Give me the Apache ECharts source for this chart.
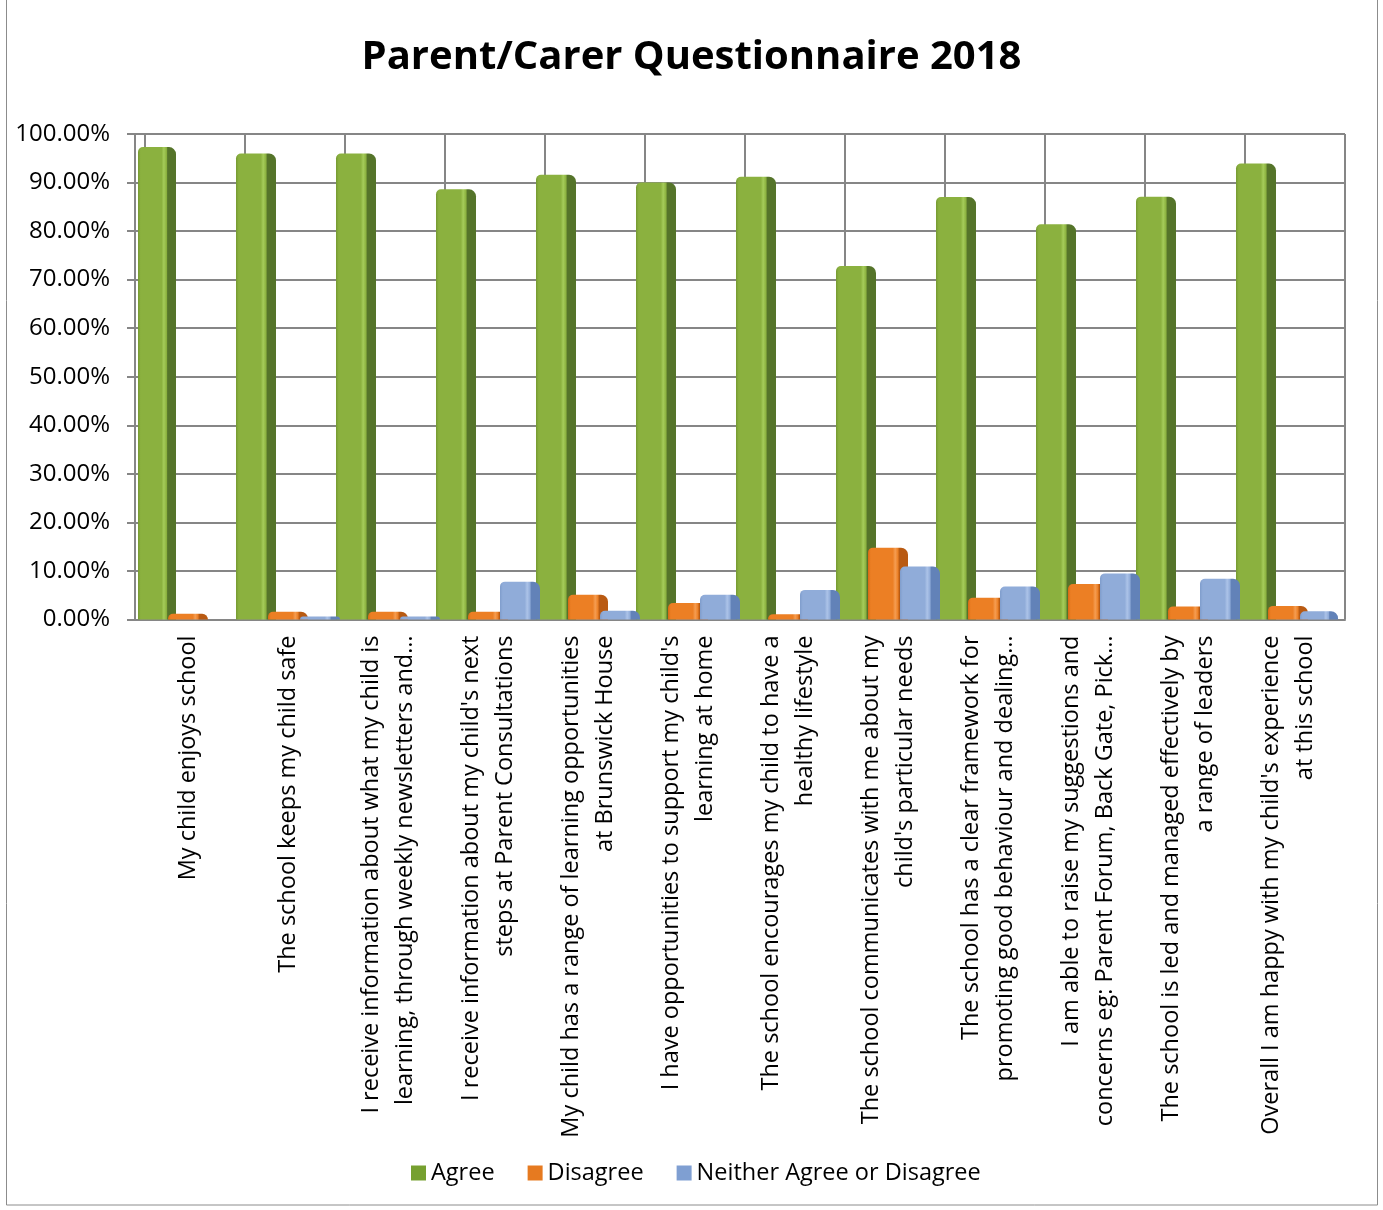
<!DOCTYPE html>
<html>
<head>
<meta charset="utf-8">
<script src="https://cdn.jsdelivr.net/npm/echarts@6/dist/echarts.min.js"></script>
<style>
html,body{margin:0;padding:0;background:#fff;}
#chart{width:1383px;height:1210px;}
</style>
</head>
<body>
<div id="chart"></div>
<script>
const categories = [
  "My child enjoys school",
  "The school keeps my child safe",
  "I receive information about what my child is\nlearning, through weekly newsletters and\u2026",
  "I receive information about my child's next\nsteps at Parent Consultations",
  "My child has a range of learning opportunities\nat Brunswick House",
  "I have opportunities to support my child's\nlearning at home",
  "The school encourages my child to have a\nhealthy lifestyle",
  "The school communicates with me about my\nchild's particular needs",
  "The school has a clear framework for\npromoting good behaviour and dealing\u2026",
  "I am able to raise my suggestions and\nconcerns eg: Parent Forum, Back Gate, Pick\u2026",
  "The school is led and managed effectively by\na range of leaders",
  "Overall I am happy with my child's experience\nat this school"
];
const seriesNames = ["Agree", "Disagree", "Neither Agree or Disagree"];
const agree    = [97.3, 96.0, 96.0, 88.6, 91.6, 90.0, 91.2, 72.8, 87.0, 81.4, 87.1, 93.9];
const disagree = [1.2, 1.6, 1.6, 1.6, 5.1, 3.4, 1.1, 14.8, 4.5, 7.3, 2.7, 2.8];
const neither  = [0, 0.6, 0.6, 7.8, 1.8, 5.1, 6.1, 10.9, 6.8, 9.5, 8.4, 1.7];
const yTicks = [0, 10, 20, 30, 40, 50, 60, 70, 80, 90, 100];

function grad(edge, front, hi, side) {
  return new echarts.graphic.LinearGradient(0, 0, 1, 0, [
    {offset: 0, color: edge},
    {offset: 0.07, color: front},
    {offset: 0.62, color: front},
    {offset: 0.68, color: hi},
    {offset: 0.75, color: front},
    {offset: 0.78, color: side},
    {offset: 1, color: side}
  ]);
}
const FONT = "Open Sans";
const chart = echarts.init(document.getElementById('chart'), null, {renderer: 'canvas'});
const valueAxisBase = {
  type: 'value', min: yTicks[0], max: yTicks[yTicks.length - 1], interval: 10
};
const barCommon = {type: 'bar', xAxisIndex: 1, yAxisIndex: 1, barWidth: 40, barGap: '-20%'};
chart.setOption({
  animation: false,
  backgroundColor: '#ffffff',
  title: {
    text: 'Parent/Carer Questionnaire 2018',
    left: 'center', top: 33,
    textStyle: {fontFamily: FONT, fontWeight: 'bold', fontSize: 40, color: '#000'}
  },
  graphic: [{
    type: 'rect', silent: true,
    shape: {x: 6.5, y: -1, width: 1371, height: 1206},
    style: {fill: 'none', stroke: '#8c8c8c', lineWidth: 1}
  }],
  legend: {
    data: [
      {name: seriesNames[0], itemStyle: {color: '#76a030'}},
      {name: seriesNames[1], itemStyle: {color: '#e67a20'}},
      {name: seriesNames[2], itemStyle: {color: '#7f9fd2'}}
    ],
    left: 406, top: 1156,
    icon: 'rect', itemWidth: 15, itemHeight: 15, itemGap: 33,
    textStyle: {fontFamily: FONT, fontSize: 23.5, color: '#000'}
  },
  grid: [
    {left: 135, right: 38, top: 134, bottom: 590.5, containLabel: false},
    {left: 138, right: 45, top: 134, bottom: 590.5, containLabel: false},
    {left: 145, right: 38, top: 134, bottom: 590.5, containLabel: false}
  ],
  xAxis: [
    {gridIndex: 0, type: 'category', data: categories,
     axisLine: {show: true, lineStyle: {color: '#868686', width: 2}},
     axisTick: {show: false}, axisLabel: {show: false}, splitLine: {show: false}},
    {gridIndex: 1, type: 'category', data: categories,
     axisLine: {show: false}, axisTick: {show: false}, splitLine: {show: false},
     axisLabel: {interval: 0, rotate: 90, margin: 16, fontFamily: FONT, fontSize: 23.5,
                 lineHeight: 34, color: '#000', align: 'right', verticalAlign: 'middle'}},
    {gridIndex: 2, type: 'category', data: categories,
     axisLine: {show: false}, axisTick: {show: false}, axisLabel: {show: false},
     splitLine: {show: true, interval: 0, lineStyle: {color: '#868686', width: 2}}}
  ],
  yAxis: [
    Object.assign({gridIndex: 0,
      axisLine: {show: true, lineStyle: {color: '#868686', width: 2}},
      axisTick: {show: true, length: 8, lineStyle: {color: '#868686', width: 2}},
      axisLabel: {margin: 25, fontFamily: FONT, fontSize: 24, color: '#000',
                  formatter: v => v.toFixed(2) + '%'},
      splitLine: {show: true, lineStyle: {color: '#868686', width: 2}}}, valueAxisBase),
    Object.assign({gridIndex: 1, show: false, splitLine: {show: false}}, valueAxisBase),
    Object.assign({gridIndex: 2, show: false, splitLine: {show: false}}, valueAxisBase)
  ],
  series: [
    Object.assign({name: seriesNames[0], data: agree,
     itemStyle: {color: grad('#769a32', '#8bb13f', '#a5cc5a', '#55742a'), borderRadius: [5, 7, 0, 0]}}, barCommon),
    Object.assign({name: seriesNames[1], data: disagree,
     itemStyle: {color: grad('#d66a14', '#ec7f24', '#f59d52', '#b95a12'), borderRadius: [5, 7, 0, 0]}}, barCommon),
    Object.assign({name: seriesNames[2], data: neither,
     itemStyle: {color: grad('#7f9dcc', '#90acd9', '#acc3e8', '#6282b8'), borderRadius: [5, 7, 0, 0]}}, barCommon)
  ]
});
</script>
</body>
</html>
